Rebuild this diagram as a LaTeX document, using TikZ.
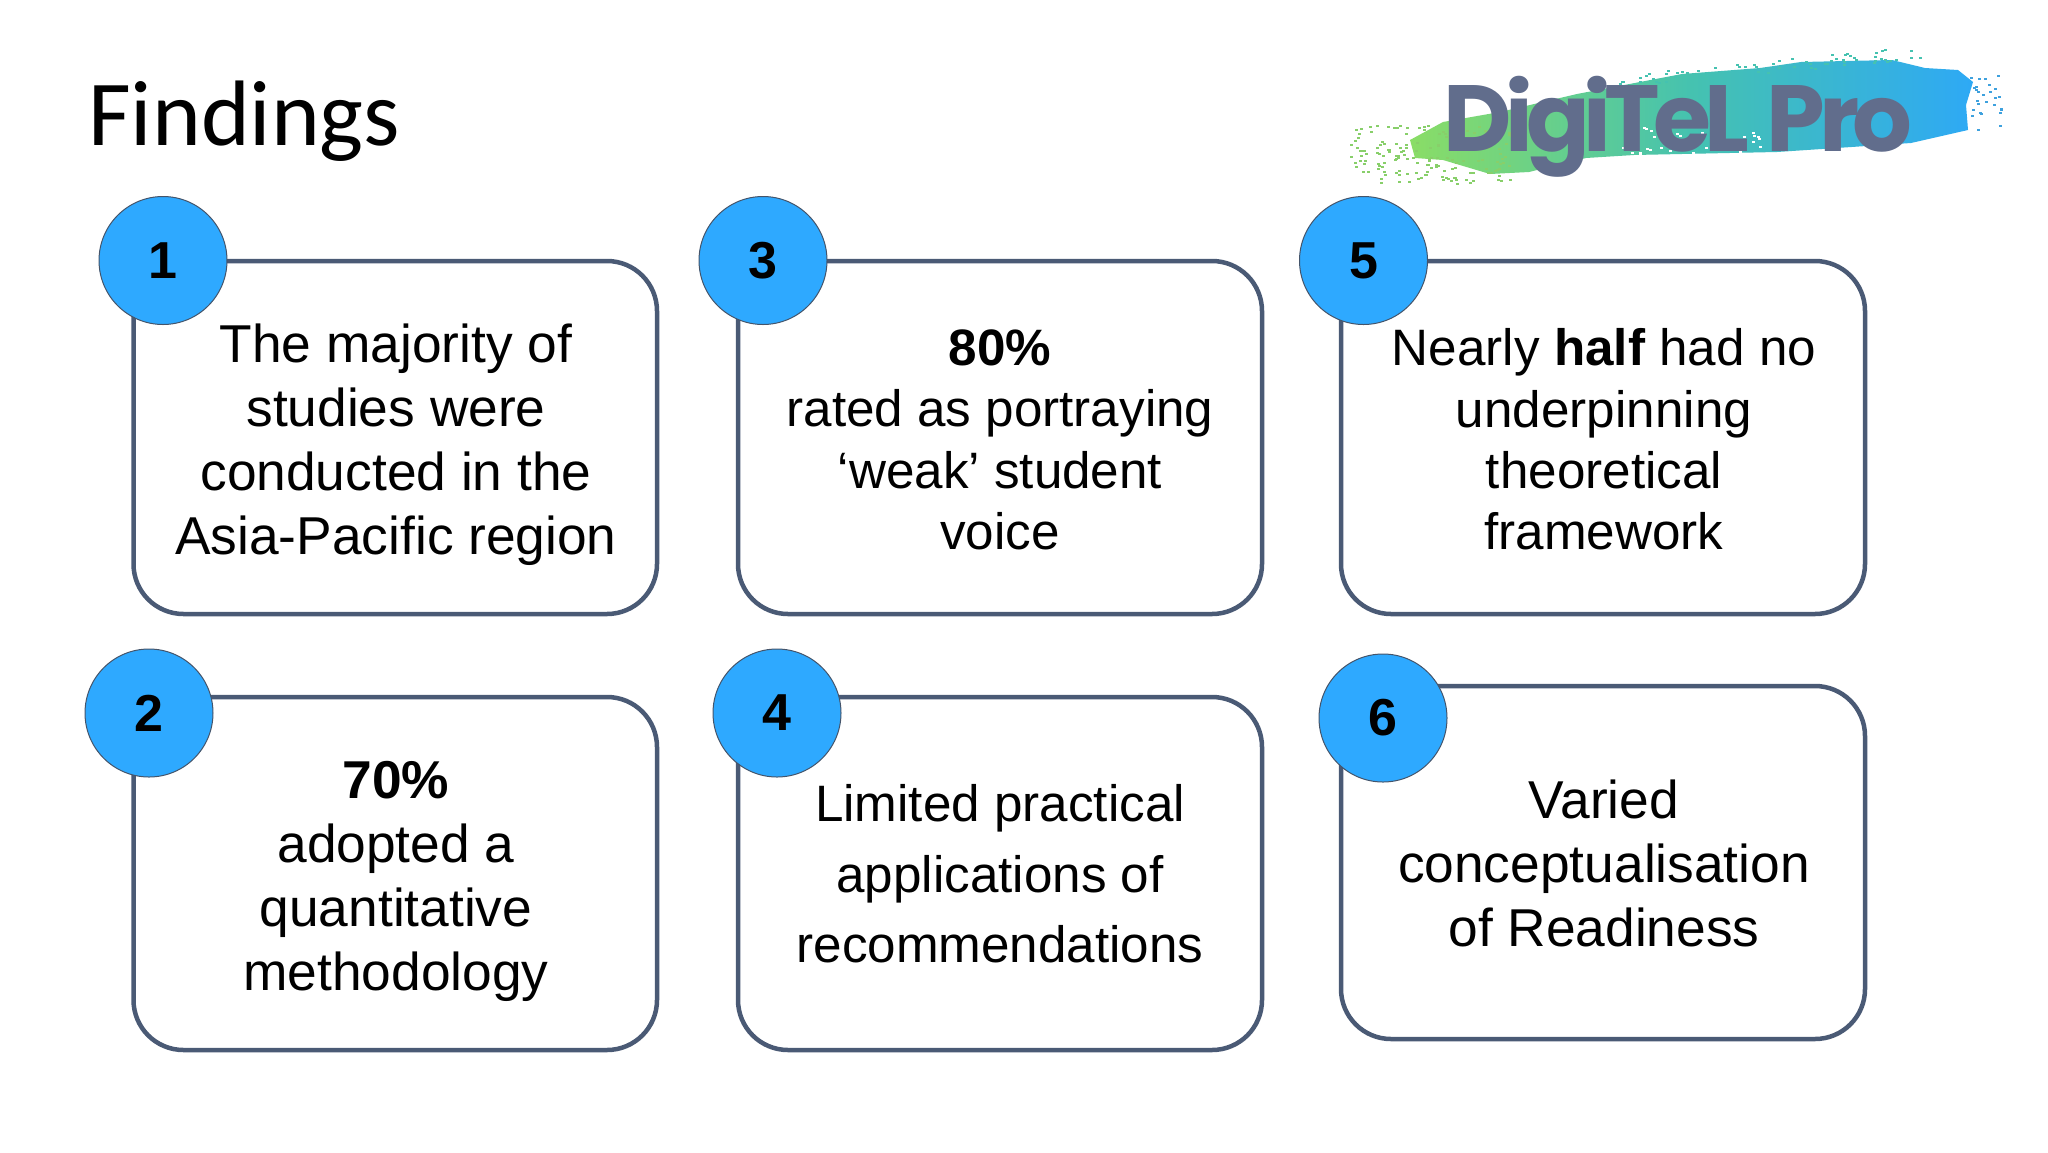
\documentclass[tikz,border=0pt]{standalone}
\usepackage{fontspec}
\setmainfont{Liberation Sans}
\newfontfamily\titlefont{Carlito}
\newfontfamily\logofont[LetterSpace=-7]{Poppins}
\definecolor{boxline}{HTML}{4A5A75}
\definecolor{disc}{HTML}{2EA9FF}
\definecolor{discline}{HTML}{44546A}
\definecolor{inkgrey}{HTML}{616D8C}
\definecolor{brushgreen}{HTML}{8ADD66}
\definecolor{brushteal}{HTML}{45C2B0}
\definecolor{brushblue}{HTML}{2EA9F5}
\tikzset{
  x=1pt,y=-1pt,
  card/.style={draw=boxline,line width=4.5pt,fill=white,rounded corners=50pt},
  num/.style={circle,draw=discline,line width=1pt,fill=disc,minimum size=128pt,inner sep=0pt,font=\fontsize{52}{52}\selectfont\bfseries,text=black},
  lab/.style={align=center,font=\fontsize{53.3}{64}\selectfont,text=black,anchor=center},
  labb/.style={align=center,font=\fontsize{51.2}{61.4}\selectfont,text=black,anchor=center},
}
\begin{document}
\begin{tikzpicture}
\useasboundingbox (0,0) rectangle (2048,1152);
\fill[white] (0,0) rectangle (2048,1152);
\node[anchor=base west,font=\titlefont\fontsize{93}{93}\selectfont,inner sep=0pt] (title) at (88,145) {Findings};
% logo brush
\shade[left color=brushgreen,right color=brushblue,middle color=brushteal]
  (1410,140) -- (1443,122) -- (1500,112) -- (1577,94) -- (1682,74) -- (1760,68) -- (1801,62) -- (1892,60) -- (1925,68) -- (1958,70) -- (1973,82) -- (1966,105) -- (1968,130) -- (1911,143) -- (1777,152) -- (1634,155) -- (1586,158) -- (1529,172) -- (1490,174) -- (1443,160) -- (1415,158) -- cycle;
\pgfmathsetseed{4242}
\foreach \i in {1,...,170}{
  \pgfmathsetmacro{\px}{1350+rnd*160}
  \pgfmathsetmacro{\py}{125+rnd*58}
  \fill[brushgreen!85!gray] (\px,\py) rectangle ++(3,2);
}
\foreach \i in {1,...,70}{
  \pgfmathsetmacro{\px}{1600+rnd*320}
  \pgfmathsetmacro{\py}{90-(\px-1600)*0.10-rnd*14}
  \fill[brushteal] (\px,\py) rectangle ++(3,2);
}
\foreach \i in {1,...,28}{
  \pgfmathsetmacro{\px}{1970+rnd*30}
  \pgfmathsetmacro{\py}{75+rnd*55}
  \fill[brushblue!80!gray] (\px,\py) rectangle ++(3,2);
}
\foreach \i in {1,...,50}{
  \pgfmathsetmacro{\px}{1620+rnd*140}
  \pgfmathsetmacro{\py}{125+rnd*32}
  \fill[white] (\px,\py) rectangle ++(3,2);
}
\node[font=\logofont\fontsize{94}{94}\selectfont\bfseries,text=inkgrey,anchor=base west,inner sep=0pt] (logo) at (1443,151) {DigiTeL\hspace{4pt} Pro};
% cards
\draw[card] (133.5,261) rectangle (657,614);
\draw[card] (738,261) rectangle (1262,614);
\draw[card] (1341,261) rectangle (1865,614);
\draw[card] (133.5,697) rectangle (657,1050);
\draw[card] (738,697) rectangle (1262,1050);
\draw[card] (1341,686) rectangle (1865,1039);
\node[num] (n1) at (163,260.5) {1};
\node[num] (n3) at (763,260.5) {3};
\node[num] (n5) at (1363.5,260.5) {5};
\node[num] (n2) at (149,713) {2};
\node[num] (n4) at (777,713) {4};
\node[num] (n6) at (1383,718) {6};
\node[lab] (t1) at (396,444.5) {The majority of\\studies were\\conducted in the\\Asia-Pacific region};
\node[labb] (t3) at (1000,440) {\textbf{80\%}\\rated as portraying\\‘weak’ student\\voice};
\node[labb] (t5) at (1604,439.5) {Nearly \textbf{half} had no\\underpinning\\theoretical\\framework};
\node[lab] (t2) at (396,881) {\textbf{70\%}\\adopted a\\quantitative\\methodology};
\node[labb,font=\fontsize{51.2}{70.5}\selectfont] (t4) at (1000,874) {Limited practical\\applications of\\recommendations};
\node[lab] (t6) at (1604,863.5) {Varied\\conceptualisation\\of Readiness};
\end{tikzpicture}
\end{document}
